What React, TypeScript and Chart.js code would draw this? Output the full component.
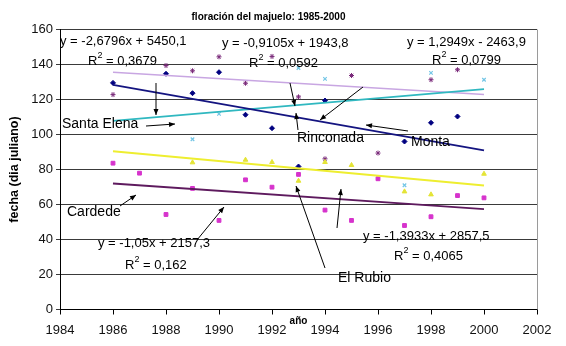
import React, { useEffect, useRef } from "react";
import { Chart, registerables } from "chart.js";

Chart.register(...registerables);

// ---- data ----
const years = [1986, 1987, 1988, 1989, 1990, 1991, 1992, 1993, 1994, 1995, 1996, 1997, 1998, 1999, 2000];

// navy diamonds
const diamondValues = [129.5, null, 134.7, 123.6, 135.6, 111.3, 103.6, 81.7, 119.4, null, null, 96, 106.7, 110.3, null];
// magenta squares
const squareValues = [83.6, 77.9, 54.3, 69.2, 50.9, 74.1, 69.9, 77.2, 56.8, 50.9, 74.7, 48, 53, 65.1, 63.8];
// yellow triangles
const triangleValues = [null, null, null, 84, null, 85.5, 84.2, 73.5, 84.2, 82.5, null, 67.4, 65.7, null, 77.5];
// cyan crosses
const crossValues = [null, null, null, 97.3, 111.8, null, null, 138, 131.8, null, null, 71, 135.2, null, 131.3];
// purple stars
const starValues = [122.8, null, 139.4, 136.4, 144.4, 129.3, 144.6, 121.5, 86.1, 133.7, 89.4, null, 131.3, 137, null];

// trendline coefficients shown on the chart: [slope, intercept]
const trendDiamond = [-2.6796, 5450.1];
const trendStar = [-0.9105, 1943.8];
const trendCross = [1.2949, -2463.9];
const trendSquare = [-1.05, 2157.3];
const trendTriangle = [-1.3933, 2857.5];

const xMin = 1984;
const xMax = 2002;
const xStep = 2;
const yMin = 0;
const yMax = 160;
const yStep = 20;

const chartTitle = "floración del majuelo: 1985-2000";
const yTitle = "fecha (dia juliano)";
const xTitle = "año";

const equations = [
  { eq: "y = -2,6796x + 5450,1", r2: "0,3679" },
  { eq: "y = -0,9105x + 1943,8", r2: "0,0592" },
  { eq: "y = 1,2949x - 2463,9", r2: "0,0799" },
  { eq: "y = -1,05x + 2157,3", r2: "0,162" },
  { eq: "y = -1,3933x + 2857,5", r2: "0,4065" },
];
const siteLabels = ["Santa Elena", "Rinconada", "Monta", "Cardede", "El Rubio"];

const FONT = "Arial, 'Liberation Sans', sans-serif";

function toPoints(vals: (number | null)[]) {
  const out: { x: number; y: number }[] = [];
  years.forEach((x, i) => {
    const v = vals[i];
    if (v !== null && v !== undefined) out.push({ x, y: v });
  });
  return out;
}

function trend(coef: number[]) {
  const x0 = years[0];
  const x1 = years[years.length - 1];
  return [
    { x: x0, y: coef[0] * x0 + coef[1] },
    { x: x1, y: coef[0] * x1 + coef[1] },
  ];
}

// layout positions for annotations (pixels)
const eqPos = [
  { ex: 60, ey: 41, rx: 88, ry: 61 },
  { ex: 222, ey: 43, rx: 249, ry: 63 },
  { ex: 407, ey: 42, rx: 432, ry: 60 },
  { ex: 98, ey: 243, rx: 125, ry: 265 },
  { ex: 363, ey: 236, rx: 394, ry: 256 },
];
const labelPos = [
  { x: 62, y: 124 },
  { x: 297, y: 138 },
  { x: 411, y: 142 },
  { x: 67, y: 212 },
  { x: 338, y: 278 },
];
const arrows = [
  [146, 126, 175, 124],
  [156, 83, 156, 115],
  [290, 83, 295, 106],
  [298, 130, 296, 113],
  [363, 87, 320, 120],
  [408, 131, 366, 125],
  [120, 206, 136, 195],
  [197, 240, 224, 207],
  [325, 268, 296, 186],
  [337, 228, 341, 189],
];

const annotationPlugin = {
  id: "annotations",
  afterDatasetsDraw(chart: any) {
    const ctx = chart.ctx as CanvasRenderingContext2D;
    ctx.save();
    // right plot border
    const a = chart.chartArea;
    ctx.strokeStyle = "#9a9a9a";
    ctx.lineWidth = 1;
    ctx.beginPath();
    ctx.moveTo(Math.round(a.right) + 0.5, a.top);
    ctx.lineTo(Math.round(a.right) + 0.5, a.bottom);
    ctx.stroke();

    ctx.fillStyle = "#000";
    ctx.textBaseline = "middle";
    ctx.textAlign = "left";
    equations.forEach((e, i) => {
      const p = eqPos[i];
      ctx.font = `13px ${FONT}`;
      ctx.fillText(e.eq, p.ex, p.ey);
      ctx.fillText("R", p.rx, p.ry);
      const w = ctx.measureText("R").width;
      ctx.font = `9px ${FONT}`;
      ctx.fillText("2", p.rx + w, p.ry - 5);
      const w2 = ctx.measureText("2").width;
      ctx.font = `13px ${FONT}`;
      ctx.fillText(" = " + e.r2, p.rx + w + w2, p.ry);
    });
    ctx.font = `14px ${FONT}`;
    siteLabels.forEach((s, i) => {
      ctx.fillText(s, labelPos[i].x, labelPos[i].y);
    });
    ctx.strokeStyle = "#000";
    ctx.lineWidth = 1;
    arrows.forEach(([x0, y0, x1, y1]) => {
      ctx.beginPath();
      ctx.moveTo(x0, y0);
      ctx.lineTo(x1, y1);
      ctx.stroke();
      const ang = Math.atan2(y1 - y0, x1 - x0);
      const L = 6;
      const W = 2.5;
      ctx.beginPath();
      ctx.moveTo(x1, y1);
      ctx.lineTo(x1 - L * Math.cos(ang) + W * Math.sin(ang), y1 - L * Math.sin(ang) - W * Math.cos(ang));
      ctx.lineTo(x1 - L * Math.cos(ang) - W * Math.sin(ang), y1 - L * Math.sin(ang) + W * Math.cos(ang));
      ctx.closePath();
      ctx.fill();
    });
    ctx.restore();
  },
};

export default function App() {
  const ref = useRef<HTMLCanvasElement | null>(null);
  useEffect(() => {
    if (!ref.current) return;
    const trendBase = { type: "line" as const, pointRadius: 0, borderWidth: 1.8, fill: false, showLine: true };
    const chart = new Chart(ref.current, {
      type: "scatter",
      data: {
        datasets: [
          { ...trendBase, data: trend(trendDiamond), borderColor: "#141480" },
          { ...trendBase, data: trend(trendTriangle), borderColor: "#EEEE30", borderWidth: 2 },
          { ...trendBase, data: trend(trendSquare), borderColor: "#5E1A5E" },
          { ...trendBase, data: trend(trendCross), borderColor: "#30B8C0" },
          { ...trendBase, data: trend(trendStar), borderColor: "#C8A6E2", borderWidth: 1.5 },
          {
            data: toPoints(diamondValues), pointStyle: "rectRot", pointRadius: 2.5,
            backgroundColor: "#000080", borderColor: "#000080", borderWidth: 1,
          },
          {
            data: toPoints(squareValues), pointStyle: "rect", pointRadius: 2.7,
            backgroundColor: "#D633CC", borderColor: "#D633CC", borderWidth: 1,
          },
          {
            data: toPoints(triangleValues), pointStyle: "triangle", pointRadius: 2.7,
            backgroundColor: "#E4E436", borderColor: "#E4E436", borderWidth: 1,
          },
          {
            data: toPoints(crossValues), pointStyle: "crossRot", pointRadius: 2.5,
            backgroundColor: "#74C6E6", borderColor: "#74C6E6", borderWidth: 1.2,
          },
          {
            data: toPoints(starValues), pointStyle: "star", pointRadius: 2.5,
            backgroundColor: "#7A2A7A", borderColor: "#7A2A7A", borderWidth: 1,
          },
        ] as any,
      },
      options: {
        animation: false,
        responsive: false,
        layout: { padding: { left: 0, right: 29, top: 0, bottom: 0 } },
        plugins: {
          legend: { display: false },
          tooltip: { enabled: false },
          title: {
            display: true,
            text: chartTitle,
            color: "#000",
            font: { family: FONT, size: 10, weight: "bold" },
            padding: { top: 11, bottom: 6.5 },
          },
        },
        scales: {
          x: {
            type: "linear",
            min: xMin,
            max: xMax,
            afterBuildTicks: (scale: any) => {
              const t = [];
              for (let v = xMin; v <= xMax; v += xStep) t.push({ value: v });
              scale.ticks = t;
            },
            afterFit: (scale: any) => {
              scale.height = 36.5;
            },
            ticks: {
              color: "#111",
              font: { family: FONT, size: 13 },
              padding: 8,
              maxRotation: 0,
              autoSkip: false,
              callback: (v: any) => String(v),
            },
            grid: { drawOnChartArea: false, drawTicks: true, tickLength: 5, color: "#000" },
            border: { color: "#000", width: 1 },
            title: {
              display: true,
              text: xTitle,
              color: "#000",
              font: { family: FONT, size: 10, weight: "bold" },
              padding: { top: 0, bottom: 19 },
            },
          },
          y: {
            type: "linear",
            min: yMin,
            max: yMax,
            afterBuildTicks: (scale: any) => {
              const t = [];
              for (let v = yMin; v <= yMax; v += yStep) t.push({ value: v });
              scale.ticks = t;
            },
            afterFit: (scale: any) => {
              scale.width = 60;
            },
            ticks: {
              color: "#111",
              font: { family: FONT, size: 13 },
              padding: 3,
            },
            grid: { color: "#3a3a3a", tickLength: 4, lineWidth: 1 },
            border: { color: "#000", width: 1 },
            title: {
              display: true,
              text: yTitle,
              color: "#000",
              font: { family: FONT, size: 12.5, weight: "bold" },
              padding: { top: 7, bottom: 0 },
            },
          },
        },
      },
      plugins: [annotationPlugin],
    } as any);
    return () => chart.destroy();
  }, []);
  return (
    <div style={{ position: "absolute", left: 0, top: 0, width: 566, height: 346, background: "#fff" }}>
      <canvas ref={ref} width={566} height={346} style={{ display: "block" }} />
    </div>
  );
}
